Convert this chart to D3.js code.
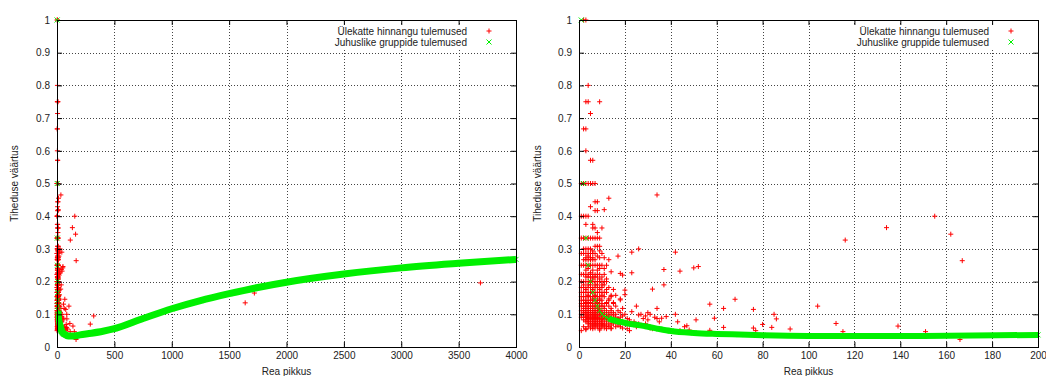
<!DOCTYPE html>
<html>
<head>
<meta charset="utf-8">
<script src="https://cdn.jsdelivr.net/npm/d3@7"></script>
<style>
  html, body { margin: 0; padding: 0; background: #fff; }
  svg { display: block; font-family: "Liberation Sans", Arial, sans-serif; }
</style>
</head>
<body>
<svg id="chart" width="1046" height="376"></svg>
<script>
// Chart text
const seriesNames = ['Ülekatte hinnangu tulemused', 'Juhuslike gruppide tulemused'];
const xTitle = 'Rea pikkus';
const yTitle = 'Tiheduse väärtus';

// Tick labels
const yTicks = [0, 0.1, 0.2, 0.3, 0.4, 0.5, 0.6, 0.7, 0.8, 0.9, 1];
const wideXTicks = [0, 500, 1000, 1500, 2000, 2500, 3000, 3500, 4000];
const zoomXTicks = [0, 20, 40, 60, 80, 100, 120, 140, 160, 180, 200];

// Ülekatte hinnangu tulemused: [rea pikkus, tihedus]
const redPoints = [
  [2,1],[3,1],[4,0.8],[3,0.75],[4,0.75],[9,0.75],[5,0.714],[2,0.667],[3,0.667],[3,0.6],[5,0.571],[6,0.571],
  [1,0.5],[2,0.5],[3,0.5],[4,0.5],[5,0.5],[6,0.5],[7,0.5],
  [34,0.465],[13,0.455],[7,0.444],[8,0.444],[5,0.429],[11,0.42],[7,0.417],[8,0.417],
  [1,0.4],[2,0.4],[3,0.4],[4,0.4],[3,0.375],[6,0.375],[6,0.364],[7,0.364],[10,0.364],[8,0.35],
  [1,0.333],[2,0.333],[3,0.333],[4,0.333],[5,0.333],[6,0.333],[7,0.333],[8,0.333],[9,0.333],
  [7,0.308],[8,0.308],[9,0.308],[2,0.3],[3,0.3],[4,0.3],[5,0.3],[26,0.3],[6,0.294],[9,0.294],[23,0.29],[42,0.29],
  [1,0.286],[2,0.286],[3,0.286],[4,0.286],[5,0.286],[6,0.286],[7,0.286],[10,0.286],
  [4,0.278],[8,0.278],[17,0.278],[3,0.273],[5,0.273],[6,0.273],[9,0.273],[11,0.273],
  [2,0.267],[3,0.267],[4,0.267],[5,0.267],[6,0.267],[7,0.267],[13,0.267],
  [1,0.25],[2,0.25],[3,0.25],[4,0.25],[5,0.25],[6,0.25],[7,0.25],[8,0.25],[9,0.25],[10,0.25],[12,0.25],
  [52,0.246],[50,0.242],[4,0.24],[9,0.24],[11,0.24],[37,0.237],[3,0.235],[6,0.235],[8,0.235],[44,0.232],
  [14,0.23],[23,0.227],[5,0.227],[18,0.225],
  [1,0.222],[2,0.222],[3,0.222],[4,0.222],[5,0.222],[6,0.222],[7,0.222],[8,0.222],[9,0.222],[11,0.222],[19,0.22],
  [3,0.214],[4,0.214],[5,0.214],[6,0.214],[7,0.214],[8,0.214],[10,0.214],[6,0.208],[9,0.208],[12,0.208],
  [1,0.2],[2,0.2],[3,0.2],[4,0.2],[5,0.2],[6,0.2],[7,0.2],[8,0.2],[9,0.2],[10,0.2],[11,0.2],[12,0.2],
  [37,0.19],[2,0.19],[4,0.19],[5,0.19],[7,0.19],[8,0.19],[10,0.19],[11,0.19],
  [1,0.182],[2,0.182],[3,0.182],[4,0.182],[5,0.182],[6,0.182],[7,0.182],[8,0.182],[9,0.182],[10,0.182],[13,0.182],
  [32,0.177],[3,0.176],[6,0.176],[9,0.176],[12,0.176],[15,0.176],[20,0.174],
  [1,0.167],[2,0.167],[3,0.167],[4,0.167],[5,0.167],[6,0.167],[7,0.167],[8,0.167],[9,0.167],[10,0.167],[11,0.167],[12,0.167],
  [20,0.16],[4,0.158],[7,0.158],[10,0.158],[14,0.158],[16,0.158],
  [1,0.154],[2,0.154],[3,0.154],[4,0.154],[5,0.154],[6,0.154],[7,0.154],[8,0.154],[9,0.154],[11,0.154],[14,0.154],
  [6,0.147],[9,0.147],[13,0.147],[18,0.147],[68,0.146],[18,0.144],
  [1,0.143],[2,0.143],[3,0.143],[4,0.143],[5,0.143],[6,0.143],[7,0.143],[8,0.143],[9,0.143],[10,0.143],[13,0.143],
  [3,0.136],[5,0.136],[8,0.136],[12,0.136],[15,0.136],
  [1,0.133],[2,0.133],[3,0.133],[4,0.133],[5,0.133],[6,0.133],[7,0.133],[8,0.133],[9,0.133],[10,0.133],[12,0.133],[15,0.133],[57,0.131],
  [1,0.125],[2,0.125],[3,0.125],[4,0.125],[5,0.125],[6,0.125],[7,0.125],[8,0.125],[9,0.125],[10,0.125],[11,0.125],[13,0.125],[16,0.125],[25,0.125],[104,0.125],
  [2,0.118],[3,0.118],[4,0.118],[5,0.118],[6,0.118],[7,0.118],[8,0.118],[9,0.118],[11,0.118],[14,0.118],[19,0.118],[63,0.118],[34,0.118],[76,0.115],
  [1,0.111],[2,0.111],[3,0.111],[4,0.111],[5,0.111],[6,0.111],[7,0.111],[8,0.111],[9,0.111],[10,0.111],[12,0.111],[14,0.111],[17,0.111],[23,0.108],
  [2,0.105],[3,0.105],[4,0.105],[5,0.105],[6,0.105],[7,0.105],[8,0.105],[9,0.105],[10,0.105],[11,0.105],[13,0.105],[15,0.105],[18,0.105],[30,0.105],
  [1,0.1],[2,0.1],[3,0.1],[4,0.1],[5,0.1],[6,0.1],[7,0.1],[8,0.1],[9,0.1],[10,0.1],[11,0.1],[12,0.1],[14,0.1],[16,0.1],[20,0.1],[27,0.1],[31,0.1],[42,0.1],[85,0.1],[26,0.098],
  [3,0.095],[4,0.095],[5,0.095],[6,0.095],[7,0.095],[8,0.095],[9,0.095],[10,0.095],[12,0.095],[13,0.095],[15,0.095],[19,0.095],[29,0.095],[38,0.093],
  [1,0.091],[2,0.091],[3,0.091],[4,0.091],[5,0.091],[6,0.091],[7,0.091],[8,0.091],[9,0.091],[11,0.091],[13,0.091],[16,0.091],[18,0.091],[33,0.091],[36,0.088],[59,0.088],
  [4,0.087],[6,0.087],[8,0.087],[10,0.087],[12,0.087],[14,0.087],[17,0.087],[21,0.087],[28,0.087],[34,0.087],[86,0.086],
  [2,0.083],[3,0.083],[4,0.083],[5,0.083],[6,0.083],[7,0.083],[8,0.083],[9,0.083],[10,0.083],[11,0.083],[12,0.083],[13,0.083],[15,0.083],[17,0.083],[22,0.083],[30,0.083],[51,0.083],
  [3,0.077],[4,0.077],[5,0.077],[6,0.077],[7,0.077],[8,0.077],[9,0.077],[10,0.077],[12,0.077],[14,0.077],[16,0.077],[19,0.077],[24,0.077],[35,0.077],[43,0.077],
  [4,0.071],[5,0.071],[6,0.071],[7,0.071],[8,0.071],[9,0.071],[10,0.071],[11,0.071],[13,0.071],[15,0.071],[18,0.071],[20,0.071],[26,0.071],[29,0.071],[112,0.072],[80,0.069],
  [5,0.067],[6,0.067],[7,0.067],[8,0.067],[9,0.067],[10,0.067],[11,0.067],[12,0.067],[14,0.067],[17,0.067],[22,0.067],[27,0.067],[47,0.065],
  [2,0.062],[4,0.062],[6,0.062],[8,0.062],[10,0.062],[12,0.062],[13,0.062],[16,0.062],[18,0.062],[25,0.062],[46,0.062],[63,0.06],[84,0.06],[139,0.064],
  [5,0.058],[7,0.058],[9,0.058],[11,0.058],[14,0.058],[19,0.058],[31,0.058],[76,0.058],
  [3,0.056],[6,0.056],[9,0.056],[12,0.056],[14,0.056],[21,0.056],[32,0.056],[92,0.055],
  [1,0.05],[3,0.053],[9,0.052],[22,0.05],[44,0.05],[48,0.052],[57,0.051],[77,0.05],[115,0.047],[151,0.047],[166,0.023],
  [116,0.327],[134,0.365],[155,0.4],[162,0.345],[167,0.264],
  [290,0.07],[320,0.095],[1640,0.135],[1720,0.165],[3690,0.196]
];

// Juhuslike gruppide tulemused: [rea pikkus, tihedus]
const greenPoints = [
  [1,1],[2,0.5],[3,0.333],[4,0.25],[5,0.2],[6,0.167],[7,0.143],[8,0.125],[9,0.111],[10,0.1],
  [11,0.095],[12,0.09],[13,0.087],[14,0.084],[15,0.082],[16,0.08],[17,0.078],[18,0.077],[19,0.076],[20,0.074],
  [25,0.068],[30,0.062],[35,0.055],[40,0.049],[50,0.043],[60,0.04],[70,0.038],[80,0.036],[100,0.034],
  [120,0.034],[150,0.034],[200,0.037],[300,0.042],[400,0.048],[500,0.056],[750,0.087],[1000,0.117],
  [1250,0.142],[1500,0.163],[1750,0.182],[2000,0.198],[2500,0.223],[3000,0.242],[3500,0.256],[4000,0.268]
];

const panels = [
  { left: 57, right: 516, xMax: 4000, ticks: wideXTicks, band: 7, bandFrom: 9, yTitleX: 18 },
  { left: 579, right: 1038, xMax: 200, ticks: zoomXTicks, band: 6, bandFrom: 13, yTitleX: 541 }
];
const plotTop = 20, plotBottom = 347;

const svg = d3.select('#chart');
const redColor = '#ff0000', greenColor = '#00f000';
const plusPath = 'M-2.5,0H2.5M0,-2.5V2.5';
const crossPath = 'M-2.5,-2.5L2.5,2.5M2.5,-2.5L-2.5,2.5';

panels.forEach((p, i) => {
  const x = d3.scaleLinear().domain([0, p.xMax]).range([p.left, p.right]);
  const y = d3.scaleLinear().domain([0, 1]).range([plotBottom, plotTop]);
  const w = p.right - p.left, h = plotBottom - plotTop;
  const g = svg.append('g');

  // grid
  const grid = g.append('g').attr('stroke', '#444').attr('stroke-width', 1).attr('stroke-dasharray', '1,2');
  p.ticks.slice(1, -1).forEach(t => {
    grid.append('line').attr('x1', Math.round(x(t)) + 0.5).attr('x2', Math.round(x(t)) + 0.5)
      .attr('y1', plotTop).attr('y2', plotBottom);
  });
  yTicks.slice(1, -1).forEach(t => {
    grid.append('line').attr('y1', Math.round(y(t)) + 0.5).attr('y2', Math.round(y(t)) + 0.5)
      .attr('x1', p.left).attr('x2', p.right);
  });

  // legend text (measured so the key area can be blanked like gnuplot does)
  const key = g.append('g').attr('font-size', 10).attr('fill', '#222');
  const t1 = key.append('text').attr('x', p.right - 49).attr('y', 34.5).attr('text-anchor', 'end').text(seriesNames[0]);
  const t2 = key.append('text').attr('x', p.right - 49).attr('y', 45.5).attr('text-anchor', 'end').text(seriesNames[1]);
  const tw = Math.max(t1.node().getComputedTextLength(), t2.node().getComputedTextLength());
  g.insert('rect', () => key.node())
    .attr('x', p.right - 49 - tw - 6).attr('y', 26).attr('width', tw + 47).attr('height', 22).attr('fill', '#fff');
  key.append('path').attr('d', plusPath).attr('transform', `translate(${p.right - 27},31)`)
    .attr('stroke', redColor).attr('fill', 'none');
  key.append('path').attr('d', crossPath).attr('transform', `translate(${p.right - 27},42)`)
    .attr('stroke', greenColor).attr('fill', 'none');

  // red points
  const reds = redPoints.filter(d => d[0] <= p.xMax);
  g.append('g').selectAll('path').data(reds).join('path')
    .attr('d', plusPath)
    .attr('transform', d => `translate(${x(d[0])},${y(d[1])})`)
    .attr('stroke', redColor).attr('stroke-width', 1).attr('fill', 'none');

  // green band (where the markers merge) + markers
  const clipId = 'clip' + i;
  svg.append('clipPath').attr('id', clipId).append('rect')
    .attr('x', p.left).attr('y', plotTop).attr('width', w).attr('height', h);
  const bandPts = greenPoints.filter(d => d[0] >= p.bandFrom);
  g.append('path').datum(bandPts)
    .attr('clip-path', `url(#${clipId})`)
    .attr('d', d3.line().x(d => x(d[0])).y(d => y(d[1])).curve(d3.curveMonotoneX))
    .attr('fill', 'none').attr('stroke', greenColor).attr('stroke-width', p.band);
  g.append('g').selectAll('path').data(greenPoints.filter(d => d[0] <= p.xMax)).join('path')
    .attr('d', crossPath)
    .attr('transform', d => `translate(${x(d[0])},${y(d[1])})`)
    .attr('stroke', greenColor).attr('stroke-width', 1).attr('fill', 'none');

  // axes with inward ticks on all sides
  const bottomAxis = g.append('g').attr('transform', `translate(0,${plotBottom})`)
    .call(d3.axisBottom(x).tickValues(p.ticks).tickSize(-5).tickPadding(5).tickFormat(d3.format('d')));
  const topAxis = g.append('g').attr('transform', `translate(0,${plotTop})`)
    .call(d3.axisTop(x).tickValues(p.ticks).tickSize(-5).tickFormat(''));
  const leftAxis = g.append('g').attr('transform', `translate(${p.left},0)`)
    .call(d3.axisLeft(y).tickValues(yTicks).tickSize(-5).tickPadding(7).tickFormat(d => String(d)));
  const rightAxis = g.append('g').attr('transform', `translate(${p.right},0)`)
    .call(d3.axisRight(y).tickValues(yTicks).tickSize(-5).tickFormat(''));
  [bottomAxis, topAxis, leftAxis, rightAxis].forEach(a => {
    a.select('.domain').remove();
    a.selectAll('line').attr('stroke', '#000');
    a.selectAll('text').attr('font-size', 10).attr('fill', '#222')
      .attr('font-family', '"Liberation Sans", Arial, sans-serif');
  });

  // frame
  g.append('rect').attr('x', p.left + 0.5).attr('y', plotTop + 0.5).attr('width', w).attr('height', h)
    .attr('fill', 'none').attr('stroke', '#000').attr('stroke-width', 1);

  // axis titles
  g.append('text').attr('x', (p.left + p.right) / 2).attr('y', 375).attr('text-anchor', 'middle')
    .attr('font-size', 10).attr('fill', '#222').text(xTitle);
  g.append('text').attr('transform', `translate(${p.yTitleX},${(plotTop + plotBottom) / 2}) rotate(-90)`)
    .attr('text-anchor', 'middle').attr('font-size', 10).attr('fill', '#222').text(yTitle);
});
</script>
</body>
</html>
